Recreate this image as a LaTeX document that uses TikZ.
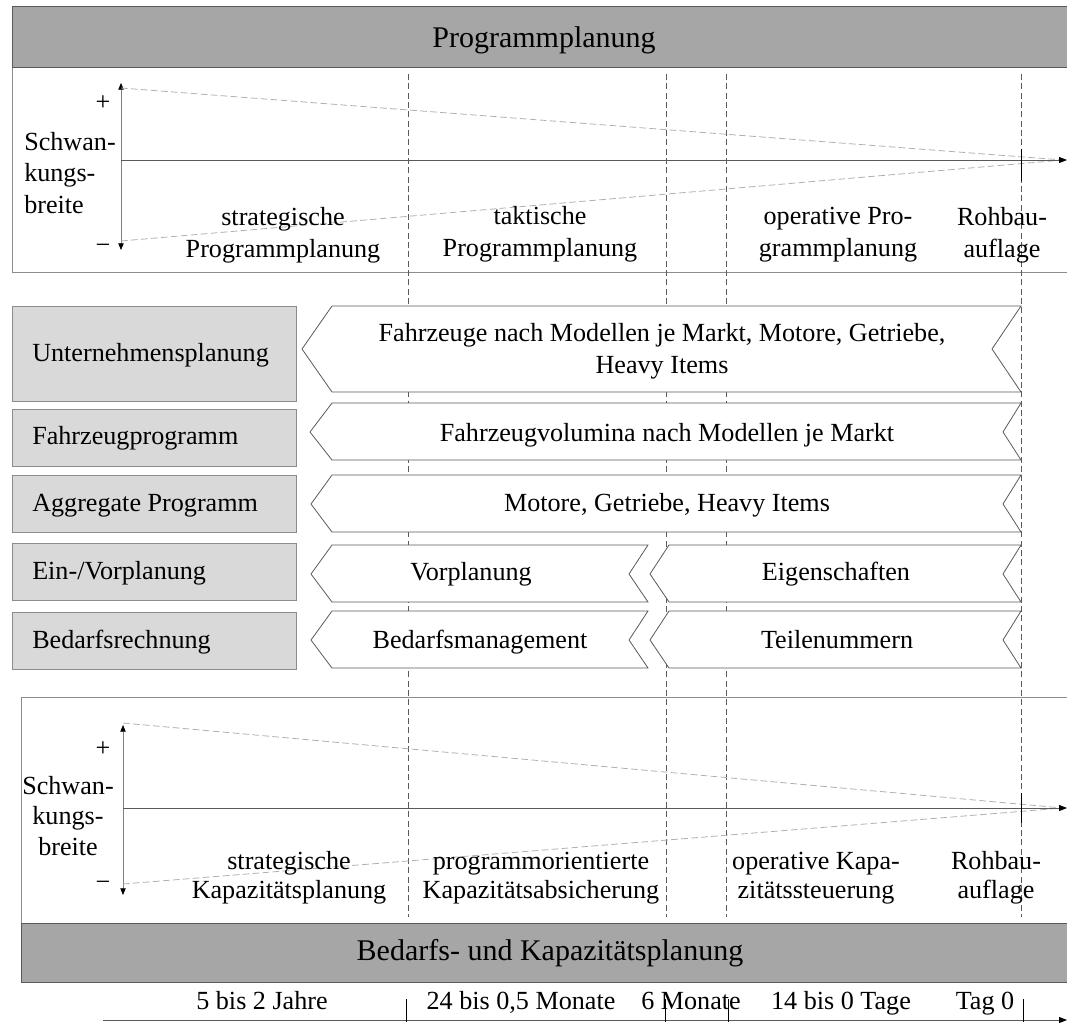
\documentclass[tikz,border=0pt]{standalone}
\usepackage{fontspec}
\setmainfont{Liberation Serif}
\usetikzlibrary{arrows.meta}

\definecolor{bandgray}{HTML}{A6A6A6}
\definecolor{labelgray}{HTML}{D9D9D9}
\definecolor{edgegray}{HTML}{5A5A5A}
\definecolor{panelgray}{HTML}{8C8C8C}
\definecolor{guidegray}{HTML}{B0B0B0}

\begin{document}
\begin{tikzpicture}[x=0.75pt,y=-0.75pt,
  txt/.style={font=\fontsize{19.6}{24}\selectfont, align=center, inner sep=0pt},
  one/.style={text height=13.5pt, text depth=4.2pt},
  txtl/.style={font=\fontsize{19.6}{23.5}\selectfont, align=left, inner sep=0pt},
  hdrtxt/.style={font=\fontsize{22.5}{26}\selectfont, inner sep=0pt, text height=15.5pt, text depth=4.8pt},
  band/.style={fill=bandgray, draw=edgegray, line width=0.7pt},
  panel/.style={fill=white, draw=panelgray, line width=0.7pt},
  rowlabel/.style={fill=labelgray, draw=panelgray, line width=0.7pt},
  chev/.style={fill=white, draw=edgegray, line width=0.6pt, line join=miter},
  phase/.style={draw=edgegray, dash pattern=on 4.5pt off 2.5pt, line width=0.45pt},
  spread/.style={draw=guidegray, dash pattern=on 5pt off 2.5pt, line width=0.6pt},
  spreadarr/.style={draw=gray, line width=0.5pt,
    {Triangle[length=5pt,width=4pt,color=black]}-{Triangle[length=5pt,width=4pt,color=black]}},
  axis/.style={draw=edgegray, line width=0.6pt, -{Triangle[length=6pt,width=4.5pt,color=black]}},
  tick/.style={draw=black, line width=0.6pt}
]
\useasboundingbox (0,0) rectangle (1067,1022);

% ---------- upper block: Programmplanung ----------
\draw[panel] (12,67) rectangle (1075,272);
\draw[band] (12,6) rectangle (1075,67);
\node[hdrtxt] (hdrtop) at (544,40) {Programmplanung};

% ---------- lower block: Bedarfs- und Kapazitaetsplanung ----------
\draw[panel] (21,697) rectangle (1075,923);
\draw[band] (21,923) rectangle (1075,982);
\node[hdrtxt] (hdrbot) at (550,953) {Bedarfs- und Kapazitätsplanung};

% ---------- phase boundaries ----------
\foreach \x in {408,666,726,1021} \draw[phase] (\x,74) -- (\x,917);

% ---------- spread funnel, upper block ----------
\coordinate (tUp) at (121,83);
\coordinate (tDn) at (121,250);
\coordinate (tO) at (121,160);
\coordinate (tEnd) at (1067,160);
\coordinate (tMeet) at (1063,160);
\coordinate (tHi) at (121,88);
\coordinate (tLo) at (121,241);
\draw[spreadarr] (tDn) -- (tUp);
\draw[spread] (tHi) -- (tMeet);
\draw[spread] (tLo) -- (tMeet);
\draw[axis] (tO) -- (tEnd);
\draw[tick] (1021,149) -- (1021,181);
\node[txt] (tplus) at (103,103) {+};
\node[txt] (tminus) at (103,249) {−};
\node[txtl, anchor=north west] (tlbl) at (24,132) {Schwan-\\kungs-\\breite};
\node[txt] (tp1) at (283,235) {strategische\\Programmplanung};
\node[txt] (tp2) at (540,234) {taktische\\Programmplanung};
\node[txt] (tp3) at (838,235) {operative Pro-\\grammplanung};
\node[txt] (tp4) at (1002,235) {Rohbau-\\auflage};

% ---------- spread funnel, lower block ----------
\coordinate (bUp) at (123,725);
\coordinate (bDn) at (123,895);
\coordinate (bO) at (123,808);
\coordinate (bEnd) at (1067,808);
\coordinate (bMeet) at (1063,808);
\coordinate (bHi) at (123,723);
\coordinate (bLo) at (123,884);
\draw[spreadarr] (bDn) -- (bUp);
\draw[spread] (bHi) -- (bMeet);
\draw[spread] (bLo) -- (bMeet);
\draw[axis] (bO) -- (bEnd);
\draw[tick] (1021,793) -- (1021,823);
\node[txt] (bplus) at (103,749) {+};
\node[txt] (bminus) at (103,886) {−};
\node[txt, font=\fontsize{19.6}{23}\selectfont] (blbl) at (68,816) {Schwan-\\kungs-\\breite};
\node[txt, font=\fontsize{19.6}{22}\selectfont] (bp1) at (289,878) {strategische\\Kapazitätsplanung};
\node[txt, font=\fontsize{19.6}{22}\selectfont] (bp2) at (541,878) {programmorientierte\\Kapazitätsabsicherung};
\node[txt, font=\fontsize{19.6}{22}\selectfont] (bp3) at (816,878) {operative Kapa-\\zitätssteuerung};
\node[txt, font=\fontsize{19.6}{22}\selectfont] (bp4) at (996,878) {Rohbau-\\auflage};

% ---------- planning levels ----------
\draw[rowlabel] (12.5,306) rectangle (296.5,401);
\draw[rowlabel] (12.5,409) rectangle (296.5,466);
\draw[rowlabel] (12.5,475) rectangle (296.5,532);
\draw[rowlabel] (12.5,543) rectangle (296.5,600);
\draw[rowlabel] (12.5,612) rectangle (296.5,669);
\node[txt, one, anchor=west] (r1) at (32,355) {Unternehmensplanung};
\node[txt, one, anchor=west] (r2) at (32,438) {Fahrzeugprogramm};
\node[txt, one, anchor=west] (r3) at (32,505) {Aggregate Programm};
\node[txt, one, anchor=west] (r4) at (32,573) {Ein-/Vorplanung};
\node[txt, one, anchor=west] (r5) at (32,642) {Bedarfsrechnung};

% ---------- contents per level ----------
\draw[chev] (302,349) -- (332,306) -- (1021,306) -- (992,349) -- (1021,392) -- (332,392) -- cycle;
\draw[chev] (310,432) -- (332,403) -- (1021,403) -- (1003,432) -- (1021,460) -- (332,460) -- cycle;
\draw[chev] (311,504) -- (332,475) -- (1021,475) -- (1003,504) -- (1021,532) -- (332,532) -- cycle;
\draw[chev] (311,574) -- (332,545) -- (648,545) -- (629,574) -- (648,602) -- (332,602) -- cycle;
\draw[chev] (650,574) -- (669,545) -- (1021,545) -- (1003,574) -- (1021,602) -- (669,602) -- cycle;
\draw[chev] (311,640) -- (332,611) -- (648,611) -- (629,640) -- (648,668) -- (332,668) -- cycle;
\draw[chev] (650,640) -- (669,611) -- (1021,611) -- (1003,640) -- (1021,668) -- (669,668) -- cycle;

\node[txt] (c1) at (662,351) {Fahrzeuge nach Modellen je Markt, Motore, Getriebe,\\Heavy Items};
\node[txt, one] (c2) at (667,435) {Fahrzeugvolumina nach Modellen je Markt};
\node[txt, one] (c3) at (667,505) {Motore, Getriebe, Heavy Items};
\node[txt, one] (c4a) at (471,574) {Vorplanung};
\node[txt, one] (c4b) at (836,574) {Eigenschaften};
\node[txt, one] (c5a) at (480,642) {Bedarfsmanagement};
\node[txt, one] (c5b) at (837,642) {Teilenummern};

% ---------- time axis ----------
\coordinate (ax0) at (103,1020);
\coordinate (ax1) at (1067,1020);
\draw[axis] (ax0) -- (ax1);
\foreach \x in {406,665,728,1023} \draw[tick] (\x,999) -- (\x,1022);
\node[txt, one] (z1) at (262,1003) {5 bis 2 Jahre};
\node[txt, one] (z2) at (521,1003) {24 bis 0,5 Monate};
\node[txt, one] (z3) at (691,1003) {6 Monate};
\node[txt, one] (z4) at (841,1003) {14 bis 0 Tage};
\node[txt, one] (z5) at (985,1003) {Tag 0};
\end{tikzpicture}
\end{document}
